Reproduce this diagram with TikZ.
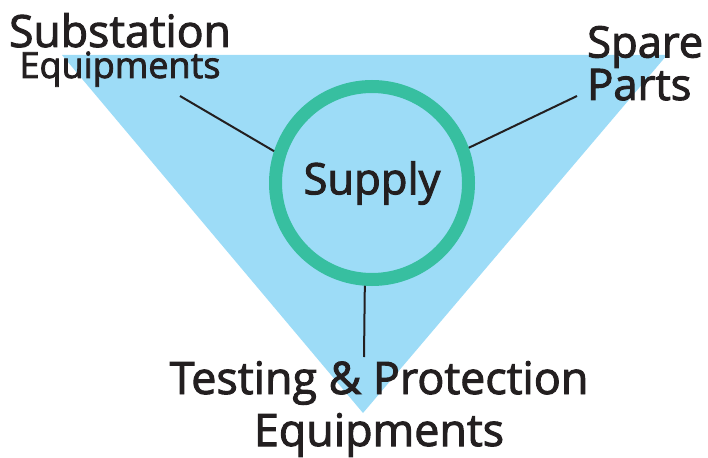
\documentclass[tikz,border=0pt]{standalone}
\usepackage{fontspec}
\setmainfont{Open Sans}[FakeBold=2.2]
\definecolor{tri}{HTML}{9DDCF7}
\definecolor{ring}{HTML}{37BFA0}
\definecolor{ink}{HTML}{231F20}
\begin{document}
\begin{tikzpicture}[x=1pt,y=-1pt,
  lbl/.style={text=ink, inner sep=0pt},
  conn/.style={draw=ink, line width=2pt}]
\useasboundingbox (0,0) rectangle (708,457);
\fill[tri] (62,55) -- (667,55) -- (363,413) -- cycle;
\node[circle, draw=ring, line width=13pt, minimum size=193pt, inner sep=0pt, text=ink,
  font=\fontsize{43.5}{43.5}\selectfont] (supply) at (372,183) {Supply};
\node[lbl, align=center, anchor=base, font=\fontsize{44.5}{31}\selectfont] (sub) at (120,78)
  {Substation\\{\fontsize{36}{31}\selectfont Equipments}};
\node[lbl, align=left, anchor=base west, font=\fontsize{43.5}{40}\selectfont] (spare) at (587,100)
  {Spare\\Parts};
\node[lbl, align=center, anchor=base, font=\fontsize{44.8}{52}\selectfont] (test) at (379,446)
  {Testing \& Protection\\Equipments};
\coordinate (subEnd) at (180,96);
\coordinate (spareEnd) at (577,96);
\coordinate (testEnd) at (364,357);
\draw[conn] (subEnd) -- (supply.162);
\draw[conn] (spareEnd) -- (supply.20);
\draw[conn] (testEnd) -- (supply.-94);
\end{tikzpicture}
\end{document}
